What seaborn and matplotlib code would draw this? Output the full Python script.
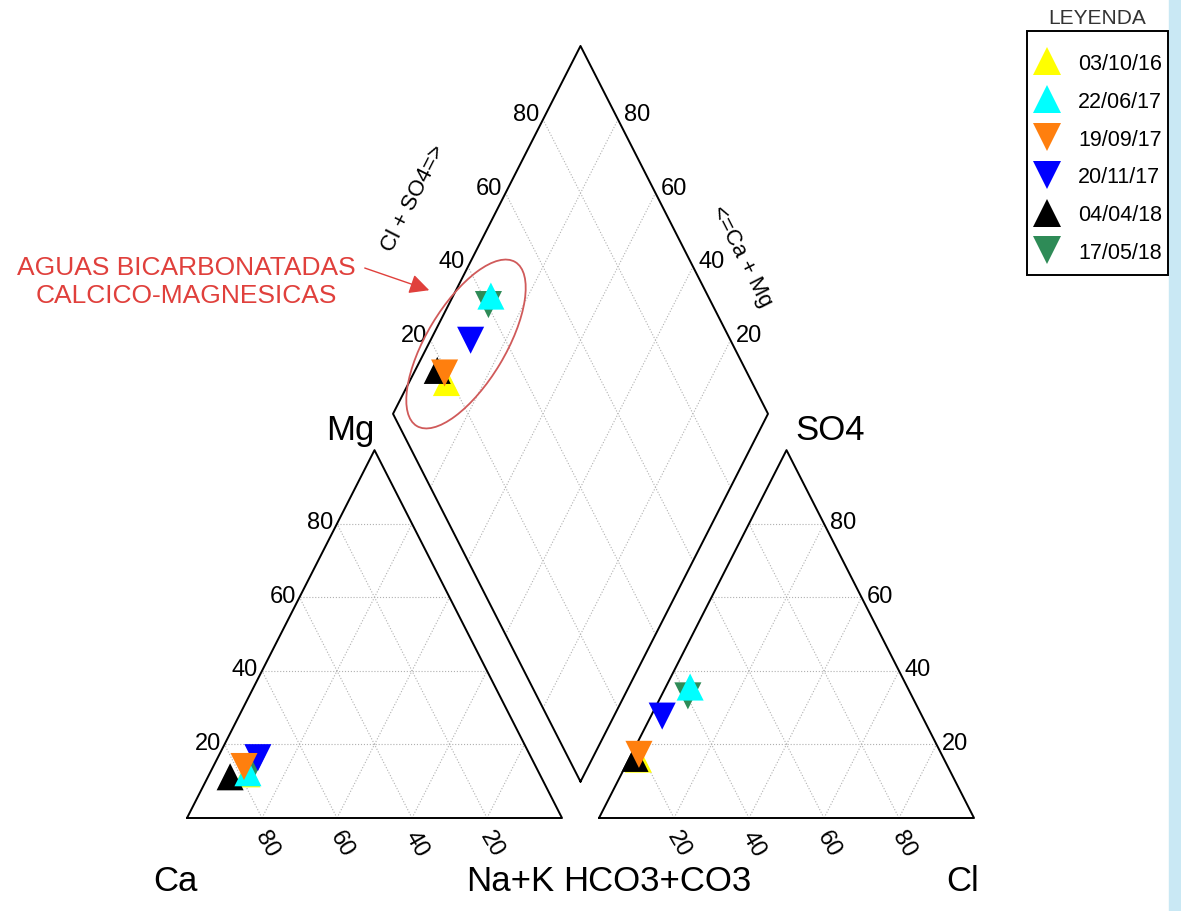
import numpy as np
import pandas as pd
import matplotlib
matplotlib.use("Agg")
import matplotlib.pyplot as plt
import seaborn as sns
from matplotlib.lines import Line2D
from matplotlib.patches import Ellipse, Rectangle

# ---------------- data ----------------
fechas = ["03/10/16", "22/06/17", "19/09/17", "20/11/17", "04/04/18", "17/05/18"]
marcadores = ["^", "^", "v", "v", "^", "v"]
colores = ["#ffff00", "#00ffff", "#ff7f0e", "#0000ff", "#000000", "#2e8b57"]
# cations (%)
ca = [78.0, 77.6, 77.8, 72.9, 82.9, 76.0]
mg = [12.0, 12.3, 14.0, 16.4, 11.2, 13.4]
nak = [10.0, 10.1, 8.2, 10.7, 5.9, 10.6]
# anions (%)
hco3 = [81.5, 57.9, 80.7, 69.3, 82.3, 59.7]
so4 = [16.0, 35.6, 17.3, 27.7, 16.2, 33.2]
cl = [2.5, 6.5, 2.0, 3.0, 1.5, 7.1]
orden_dibujo = ["17/05/18", "03/10/16", "04/04/18", "20/11/17", "22/06/17", "19/09/17"]
ticks = [20, 40, 60, 80]

sns.set_theme(style="white")
plt.rcParams["font.family"] = ["Liberation Sans", "DejaVu Sans"]
plt.rcParams["text.color"] = "black"

H = 0.981   # triangle height (unit side)
G = 0.0987  # gap between triangles
X2 = 1 + G  # origin of anion triangle
B = np.array([1 + G / 2, G * H])  # diamond bottom
VL = np.array([-0.5, H])
VR = np.array([0.5, H])


def tri(right, top, x0):
    right = np.asarray(right) / 100.0
    top = np.asarray(top) / 100.0
    return x0 + right + top / 2, top * H


def dia(c, s):
    c = np.asarray(c) / 100.0
    s = np.asarray(s) / 100.0
    p = B[:, None] + np.outer(VL, c) + np.outer(VR, s)
    return p[0], p[1]


fig = plt.figure(figsize=(11.81, 9.12), dpi=100)
ax = fig.add_axes([0, 0, 1, 1])

fig.patches.append(Rectangle((1169 / 1181, 0), 12 / 1181, 1, transform=fig.transFigure,
                             color="#c9e8f4", zorder=0))

grid_kw = dict(color="#b0b0b0", lw=0.8, ls=":", zorder=1)
edge_kw = dict(color="black", lw=1.4, zorder=2)

# triangles
for x0 in (0, X2):
    ax.plot([x0, x0 + 1, x0 + 0.5, x0], [0, 0, H, 0], **edge_kw)
    for t in ticks:
        v = t / 100
        ax.plot([x0 + v / 2, x0 + 1 - v / 2], [v * H, v * H], **grid_kw)
        ax.plot([x0 + v, x0 + v + (1 - v) / 2], [0, (1 - v) * H], **grid_kw)
        ax.plot([x0 + 1 - v, x0 + (1 - v) / 2], [0, (1 - v) * H], **grid_kw)

# diamond
L = B + VL
R = B + VR
T = B + VL + VR
ax.plot([B[0], L[0], T[0], R[0], B[0]], [B[1], L[1], T[1], R[1], B[1]], **edge_kw)
for t in ticks:
    v = t / 100
    p0 = B + v * VL
    ax.plot([p0[0], p0[0] + VR[0]], [p0[1], p0[1] + VR[1]], **grid_kw)
    p0 = B + v * VR
    ax.plot([p0[0], p0[0] + VL[0]], [p0[1], p0[1] + VL[1]], **grid_kw)

# tick labels
tfs = 17
for t in ticks:
    v = t / 100
    # Mg on left edge of cation triangle
    ax.text(v / 2 - 0.01, v * H + 0.004, str(t), ha="right", va="center", fontsize=tfs)
    # Ca along bottom
    ax.text(1 - v + 0.012, -0.068, str(t), ha="center", va="center", fontsize=tfs, rotation=-60)
    # Cl along bottom of anion triangle
    ax.text(X2 + v + 0.012, -0.068, str(t), ha="center", va="center", fontsize=tfs, rotation=-60)
    # SO4 on right edge of anion triangle
    ax.text(X2 + 1 - v / 2 + 0.015, v * H + 0.004, str(t), ha="left", va="center", fontsize=tfs)
    # diamond upper-left: Cl+SO4
    p = L + v * VR
    ax.text(p[0] - 0.01, p[1] + 0.014, str(t), ha="right", va="center", fontsize=tfs)
    # diamond upper-right: Ca+Mg
    p = R + v * VL
    ax.text(p[0] + 0.015, p[1] + 0.014, str(t), ha="left", va="center", fontsize=tfs)

ang = np.degrees(np.arctan(2 * H))
ax.text(0.603, 1.655, "Cl + SO4=>", rotation=ang, ha="center", va="center", fontsize=16)
ax.text(1.48, 1.50, "<=Ca + Mg", rotation=-ang, ha="center", va="center", fontsize=16)

bfs = 25
ax.text(0.435, 1.037, "Mg", ha="center", va="center", fontsize=bfs)
ax.text(1.715, 1.037, "SO4", ha="center", va="center", fontsize=bfs)
ax.text(-0.032, -0.168, "Ca", ha="center", va="center", fontsize=bfs)
ax.text(0.861, -0.168, "Na+K", ha="center", va="center", fontsize=bfs)
ax.text(1.253, -0.168, "HCO3+CO3", ha="center", va="center", fontsize=bfs)
ax.text(2.067, -0.168, "Cl", ha="center", va="center", fontsize=bfs)

# annotation
rojo = "#e0403c"
ax.text(-0.003, 1.432, "AGUAS BICARBONATADAS\nCALCICO-MAGNESICAS", ha="center", va="center",
        fontsize=19, color=rojo, linespacing=1.25)
ax.annotate("", xy=(0.653, 1.405), xytext=(0.467, 1.469),
            arrowprops=dict(arrowstyle="-|>", color=rojo, lw=1.0, mutation_scale=30))
ax.add_patch(Ellipse((0.744, 1.264), 0.51, 0.21, angle=59, fill=False,
                     edgecolor="#d05a5a", lw=1.3, zorder=3))

# points
xc, yc = tri(nak, mg, 0)
xa, ya = tri(cl, so4, X2)
xd, yd = dia([100 - n for n in nak], [a + b for a, b in zip(cl, so4)])
df = pd.DataFrame({
    "fecha": fechas * 3,
    "x": np.concatenate([xc, xa, xd]),
    "y": np.concatenate([yc, ya, yd]),
})
df["orden"] = df["fecha"].map({f: i for i, f in enumerate(orden_dibujo)})
df = df.sort_values("orden", kind="stable")
pal = dict(zip(fechas, colores))
mk = dict(zip(fechas, marcadores))
sns.scatterplot(data=df, x="x", y="y", hue="fecha", style="fecha", palette=pal, markers=mk,
                s=380, linewidth=0, legend=False, ax=ax, zorder=4)
ax.set_xlim(-187 / 375, (1181 - 187) / 375)
ax.set_ylim((819 - 912) / 375, 819 / 375)
ax.axis("off")

# legend (frame drawn separately)
fig.patches.append(Rectangle((1027 / 1181, 1 - 276 / 912), 141 / 1181, 244 / 912,
                             transform=fig.transFigure, fill=False, edgecolor="black",
                             lw=1.4, zorder=5))
handles = [Line2D([], [], ls="", marker=m, color=c, markersize=19.5, markeredgewidth=0)
           for m, c in zip(marcadores, colores)]
leg = ax.legend(handles, fechas, loc="center left",
                bbox_to_anchor=(1034 / 1181, 1 - 159 / 912),
                bbox_transform=fig.transFigure, borderaxespad=0, borderpad=0, frameon=False,
                fontsize=15.5, labelspacing=0.78, handletextpad=0.8, handlelength=1.25)
fig.text(1097 / 1181, 1 - 19 / 912, "LEYENDA", ha="center", va="center", fontsize=15, color="#333333")

fig.savefig("out.png", dpi=100)
